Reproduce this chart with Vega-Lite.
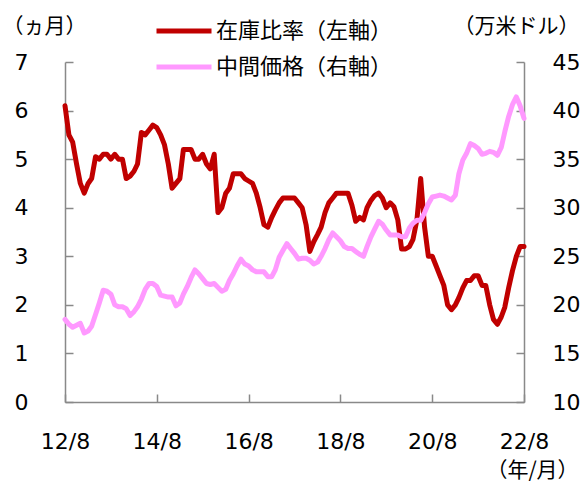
{
  "$schema": "https://vega.github.io/schema/vega-lite/v6.json",
  "width": 459,
  "height": 340,
  "autosize": "none",
  "padding": {"left": 65, "top": 62, "right": 57, "bottom": 80},
  "background": "white",
  "config": {"view": {"stroke": null}, "font": "DejaVu Sans"},
  "data": {
    "format": {"parse": {"d": "utc:'%Y-%m'"}},
    "values": [
      {"d":"2012-08","a":6.1,"b":18.5},{"d":"2012-09","a":5.5,"b":18.0},{"d":"2012-10","a":5.35,"b":17.7},{"d":"2012-11","a":4.9,"b":17.9},{"d":"2012-12","a":4.5,"b":18.1},
      {"d":"2013-01","a":4.3,"b":17.1},{"d":"2013-02","a":4.5,"b":17.3},{"d":"2013-03","a":4.6,"b":17.8},{"d":"2013-04","a":5.05,"b":19.0},{"d":"2013-05","a":5.0,"b":20.2},{"d":"2013-06","a":5.1,"b":21.5},{"d":"2013-07","a":5.1,"b":21.4},{"d":"2013-08","a":5.0,"b":21.1},{"d":"2013-09","a":5.1,"b":20.0},{"d":"2013-10","a":5.0,"b":19.8},{"d":"2013-11","a":5.0,"b":19.8},{"d":"2013-12","a":4.6,"b":19.6},
      {"d":"2014-01","a":4.65,"b":18.9},{"d":"2014-02","a":4.75,"b":19.3},{"d":"2014-03","a":4.9,"b":19.8},{"d":"2014-04","a":5.55,"b":20.6},{"d":"2014-05","a":5.5,"b":21.6},{"d":"2014-06","a":5.6,"b":22.2},{"d":"2014-07","a":5.7,"b":22.2},{"d":"2014-08","a":5.65,"b":21.9},{"d":"2014-09","a":5.5,"b":21.0},{"d":"2014-10","a":5.3,"b":20.9},{"d":"2014-11","a":4.9,"b":20.8},{"d":"2014-12","a":4.4,"b":20.8},
      {"d":"2015-01","a":4.5,"b":19.9},{"d":"2015-02","a":4.6,"b":20.2},{"d":"2015-03","a":5.2,"b":21.1},{"d":"2015-04","a":5.2,"b":21.9},{"d":"2015-05","a":5.2,"b":22.8},{"d":"2015-06","a":5.0,"b":23.6},{"d":"2015-07","a":5.0,"b":23.2},{"d":"2015-08","a":5.1,"b":22.7},{"d":"2015-09","a":4.9,"b":22.2},{"d":"2015-10","a":4.8,"b":22.1},{"d":"2015-11","a":5.1,"b":22.2},{"d":"2015-12","a":3.9,"b":21.8},
      {"d":"2016-01","a":4.0,"b":21.4},{"d":"2016-02","a":4.3,"b":21.6},{"d":"2016-03","a":4.4,"b":22.5},{"d":"2016-04","a":4.7,"b":23.2},{"d":"2016-05","a":4.7,"b":24.0},{"d":"2016-06","a":4.7,"b":24.7},{"d":"2016-07","a":4.6,"b":24.2},{"d":"2016-08","a":4.55,"b":24.0},{"d":"2016-09","a":4.5,"b":23.6},{"d":"2016-10","a":4.3,"b":23.4},{"d":"2016-11","a":4.0,"b":23.4},{"d":"2016-12","a":3.65,"b":23.4},
      {"d":"2017-01","a":3.6,"b":22.9},{"d":"2017-02","a":3.8,"b":22.9},{"d":"2017-03","a":3.95,"b":23.6},{"d":"2017-04","a":4.1,"b":24.9},{"d":"2017-05","a":4.2,"b":25.6},{"d":"2017-06","a":4.2,"b":26.3},{"d":"2017-07","a":4.2,"b":25.8},{"d":"2017-08","a":4.2,"b":25.3},{"d":"2017-09","a":4.1,"b":24.7},{"d":"2017-10","a":4.0,"b":24.8},{"d":"2017-11","a":3.65,"b":24.8},{"d":"2017-12","a":3.1,"b":24.6},
      {"d":"2018-01","a":3.3,"b":24.2},{"d":"2018-02","a":3.45,"b":24.4},{"d":"2018-03","a":3.6,"b":25.0},{"d":"2018-04","a":3.9,"b":25.8},{"d":"2018-05","a":4.1,"b":26.7},{"d":"2018-06","a":4.2,"b":27.4},{"d":"2018-07","a":4.3,"b":27.0},{"d":"2018-08","a":4.3,"b":26.6},{"d":"2018-09","a":4.3,"b":26.0},{"d":"2018-10","a":4.3,"b":25.8},{"d":"2018-11","a":4.05,"b":25.8},{"d":"2018-12","a":3.72,"b":25.5},
      {"d":"2019-01","a":3.8,"b":25.2},{"d":"2019-02","a":3.75,"b":25.0},{"d":"2019-03","a":4.0,"b":26.0},{"d":"2019-04","a":4.15,"b":27.0},{"d":"2019-05","a":4.25,"b":27.8},{"d":"2019-06","a":4.3,"b":28.6},{"d":"2019-07","a":4.2,"b":28.3},{"d":"2019-08","a":4.0,"b":27.7},{"d":"2019-09","a":4.1,"b":27.2},{"d":"2019-10","a":4.02,"b":27.2},{"d":"2019-11","a":3.75,"b":27.2},{"d":"2019-12","a":3.15,"b":27.0},
      {"d":"2020-01","a":3.15,"b":27.0},{"d":"2020-02","a":3.2,"b":27.9},{"d":"2020-03","a":3.35,"b":28.4},{"d":"2020-04","a":3.75,"b":28.7},{"d":"2020-05","a":4.6,"b":28.7},{"d":"2020-06","a":3.6,"b":29.5},{"d":"2020-07","a":3.0,"b":30.4},{"d":"2020-08","a":3.0,"b":31.1},{"d":"2020-09","a":2.8,"b":31.2},{"d":"2020-10","a":2.6,"b":31.3},{"d":"2020-11","a":2.4,"b":31.2},{"d":"2020-12","a":2.0,"b":31.0},
      {"d":"2021-01","a":1.9,"b":30.8},{"d":"2021-02","a":2.0,"b":31.3},{"d":"2021-03","a":2.15,"b":33.5},{"d":"2021-04","a":2.35,"b":34.9},{"d":"2021-05","a":2.5,"b":35.6},{"d":"2021-06","a":2.5,"b":36.6},{"d":"2021-07","a":2.6,"b":36.4},{"d":"2021-08","a":2.6,"b":36.1},{"d":"2021-09","a":2.4,"b":35.5},{"d":"2021-10","a":2.4,"b":35.6},{"d":"2021-11","a":2.0,"b":35.8},{"d":"2021-12","a":1.7,"b":35.7},
      {"d":"2022-01","a":1.6,"b":35.4},{"d":"2022-02","a":1.75,"b":36.2},{"d":"2022-03","a":1.95,"b":37.8},{"d":"2022-04","a":2.35,"b":39.4},{"d":"2022-05","a":2.7,"b":40.6},{"d":"2022-06","a":3.0,"b":41.4},{"d":"2022-07","a":3.2,"b":40.5},{"d":"2022-08","a":3.2,"b":39.2}
    ]
  },
  "encoding": {
    "x": {
      "field": "d",
      "type": "temporal",
      "scale": {"type": "utc", "domain": [{"year": 2012, "month": 8, "date": 1, "utc": true}, {"year": 2022, "month": 8, "date": 1, "utc": true}]},
      "axis": {
        "orient": "bottom",
        "values": [
          {"year": 2012, "month": 8, "date": 1, "utc": true},
          {"year": 2014, "month": 8, "date": 1, "utc": true},
          {"year": 2016, "month": 8, "date": 1, "utc": true},
          {"year": 2018, "month": 8, "date": 1, "utc": true},
          {"year": 2020, "month": 8, "date": 1, "utc": true},
          {"year": 2022, "month": 8, "date": 1, "utc": true}
        ],
        "format": "%y/%-m",
        "grid": false,
        "tickSize": -8,
        "labelPadding": 37,
        "labelFlush": false,
        "labelOverlap": false,
        "domainColor": "#898989",
        "tickColor": "#898989",
        "domainWidth": 1.5,
        "tickWidth": 1.5,
        "labelFont": "DejaVu Sans",
        "labelFontSize": 22,
        "labelColor": "black",
        "title": "（年/月）",
        "titleFont": "Noto Sans CJK JP",
        "titleFontSize": 21,
        "titleFontWeight": "normal",
        "titleColor": "black",
        "titleX": 467,
        "titleY": 68,
        "titleAlign": "center",
        "titleBaseline": "middle",
        "titleAngle": 0
      }
    }
  },
  "layer": [
    {
      "mark": {"type": "line", "strokeWidth": 5, "strokeJoin": "round", "strokeCap": "round"},
      "encoding": {
        "y": {
          "field": "a",
          "type": "quantitative",
          "scale": {"domain": [0, 7], "nice": false, "zero": false},
          "axis": {
            "orient": "left",
            "values": [0, 1, 2, 3, 4, 5, 6, 7],
            "grid": false,
            "tickSize": -8,
            "labelPadding": 45,
            "domainColor": "#898989",
            "tickColor": "#898989",
            "domainWidth": 1.5,
            "tickWidth": 1.5,
            "labelFont": "DejaVu Sans",
            "labelFontSize": 22,
            "labelColor": "black",
            "labelFlush": false,
            "labelOverlap": false,
            "title": "（ヵ月）",
            "titleFont": "Noto Sans CJK JP",
            "titleFontSize": 21,
            "titleFontWeight": "normal",
            "titleColor": "black",
            "titleX": -21,
            "titleY": -36,
            "titleAlign": "center",
            "titleBaseline": "middle",
            "titleAngle": 0
          }
        },
        "color": {
          "datum": "在庫比率（左軸）",
          "scale": {"domain": ["在庫比率（左軸）", "中間価格（右軸）"], "range": ["#c00000", "#ff99ff"]},
          "legend": {
            "orient": "none",
            "legendX": 89,
            "legendY": -49,
            "title": null,
            "direction": "vertical",
            "symbolType": "stroke",
            "symbolSize": 3025,
            "symbolStrokeWidth": 5,
            "labelFont": "Noto Sans CJK JP",
            "labelFontSize": 22,
            "labelColor": "black",
            "labelOffset": 2,
            "labelLimit": 400,
            "clipHeight": 36,
            "rowPadding": 0,
            "padding": 0
          }
        }
      }
    },
    {
      "mark": {"type": "line", "strokeWidth": 5, "strokeJoin": "round", "strokeCap": "round"},
      "encoding": {
        "y": {
          "field": "b",
          "type": "quantitative",
          "scale": {"domain": [10, 45], "nice": false, "zero": false},
          "axis": {
            "orient": "right",
            "values": [10, 15, 20, 25, 30, 35, 40, 45],
            "grid": false,
            "tickSize": -8,
            "labelPadding": 36,
            "domainColor": "#898989",
            "tickColor": "#898989",
            "domainWidth": 1.5,
            "tickWidth": 1.5,
            "labelFont": "DejaVu Sans",
            "labelFontSize": 22,
            "labelColor": "black",
            "labelFlush": false,
            "labelOverlap": false,
            "title": "（万米ドル）",
            "titleFont": "Noto Sans CJK JP",
            "titleFontSize": 21,
            "titleFontWeight": "normal",
            "titleColor": "black",
            "titleX": -8,
            "titleY": -36,
            "titleAlign": "center",
            "titleBaseline": "middle",
            "titleAngle": 0
          }
        },
        "color": {"datum": "中間価格（右軸）"}
      }
    }
  ],
  "resolve": {"scale": {"y": "independent"}}
}
